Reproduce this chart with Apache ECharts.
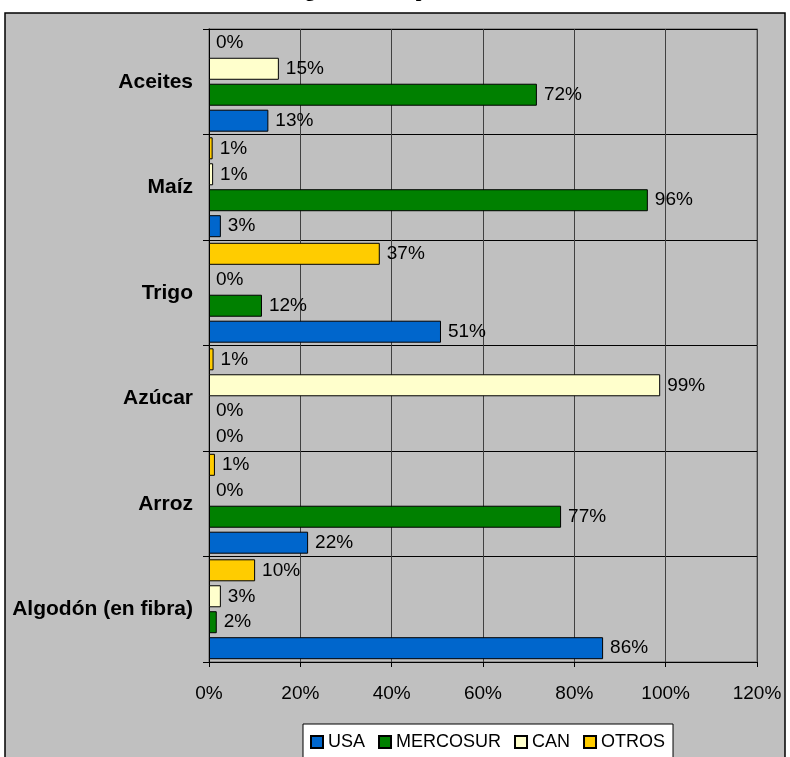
<!DOCTYPE html>
<html>
<head>
<meta charset="utf-8">
<script src="https://cdn.jsdelivr.net/npm/echarts@6/dist/echarts.min.js"></script>
<style>
  html, body { margin: 0; padding: 0; background: #fff; }
  #chart { width: 790px; height: 757px; }
</style>
</head>
<body>
<div id="chart"></div>
<script>
var categories = ['Algodón (en fibra)', 'Arroz', 'Azúcar', 'Trigo', 'Maíz', 'Aceites'];
var usa      = [86.3, 21.7, 0, 50.8, 2.6, 13];
var mercosur = [1.7, 77.1, 0, 11.6, 96.1, 71.8];
var can      = [2.6, 0, 98.8, 0, 0.9, 15.3];
var otros    = [10.1, 1.3, 1.0, 37.4, 0.8, 0];
var tickLabels = ['0%', '20%', '40%', '60%', '80%', '100%', '120%'];
var legendNames = ['USA', 'MERCOSUR', 'CAN', 'OTROS'];

var chart = echarts.init(document.getElementById('chart'));

function makeSeries(name, data, color) {
    // zero values get no outline, only the label
    var items = data.map(function (v) {
        return v === 0 ? { value: 0, itemStyle: { borderWidth: 0 } } : v;
    });
    return {
        name: name,
        type: 'bar',
        data: items,
        barWidth: 22,
        barGap: '18%',
        itemStyle: { color: color, borderColor: '#000', borderWidth: 1 },
        label: {
            show: true,
            position: 'right',
            distance: 7,
            fontFamily: 'Liberation Sans',
            fontSize: 19,
            color: '#000',
            formatter: function (p) { return Math.round(p.value) + '%'; }
        }
    };
}

var option = {
    animation: false,
    backgroundColor: '#fff',
    graphic: [
        {
            type: 'rect', z: -10, silent: true,
            shape: { x: 5, y: 13, width: 780, height: 760 },
            style: { fill: '#C0C0C0', stroke: '#000', lineWidth: 1.5 }
        },
        {
            type: 'text', z: -5, left: 'center', top: -19,
            style: {
                text: 'Origen de las importaciones',
                font: 'bold 20px "Liberation Serif"',
                fill: '#000'
            }
        }
    ],
    grid: {
        left: 209, right: 33, top: 29, bottom: 95,
        show: true, backgroundColor: '#C0C0C0', borderColor: '#808080', borderWidth: 1.5
    },
    legend: {
        data: legendNames,
        left: 303, top: 724,
        padding: [9, 8, 20, 7],
        itemGap: 13,
        itemWidth: 12, itemHeight: 12,
        icon: 'rect',
        backgroundColor: '#fff',
        borderColor: '#000',
        borderWidth: 1,
        textStyle: { fontFamily: 'Liberation Sans', fontSize: 18, color: '#000' }
    },
    xAxis: {
        type: 'value',
        min: 0, max: 120, interval: 20,
        axisLine: { show: true, lineStyle: { color: '#000' } },
        axisTick: { show: true, length: 5, lineStyle: { color: '#000' } },
        splitLine: { show: true, lineStyle: { color: '#404040', width: 1 } },
        axisLabel: {
            margin: 22,
            fontFamily: 'Liberation Sans', fontSize: 19, color: '#000',
            formatter: function (v) { return tickLabels[Math.round(v / 20)]; }
        }
    },
    yAxis: {
        type: 'category',
        data: categories,
        axisLine: { show: true, lineStyle: { color: '#000' } },
        axisTick: { show: true, length: 6, lineStyle: { color: '#000' } },
        splitLine: { show: true, lineStyle: { color: '#000', width: 1 } },
        axisLabel: {
            margin: 16,
            fontFamily: 'Liberation Sans', fontWeight: 'bold', fontSize: 21, color: '#000'
        }
    },
    // drawn top to bottom inside each category: OTROS, CAN, MERCOSUR, USA
    series: [
        makeSeries('OTROS', otros, '#FFCC00'),
        makeSeries('CAN', can, '#FFFFCC'),
        makeSeries('MERCOSUR', mercosur, '#008000'),
        makeSeries('USA', usa, '#0066CC')
    ]
};

chart.setOption(option);
</script>
</body>
</html>
